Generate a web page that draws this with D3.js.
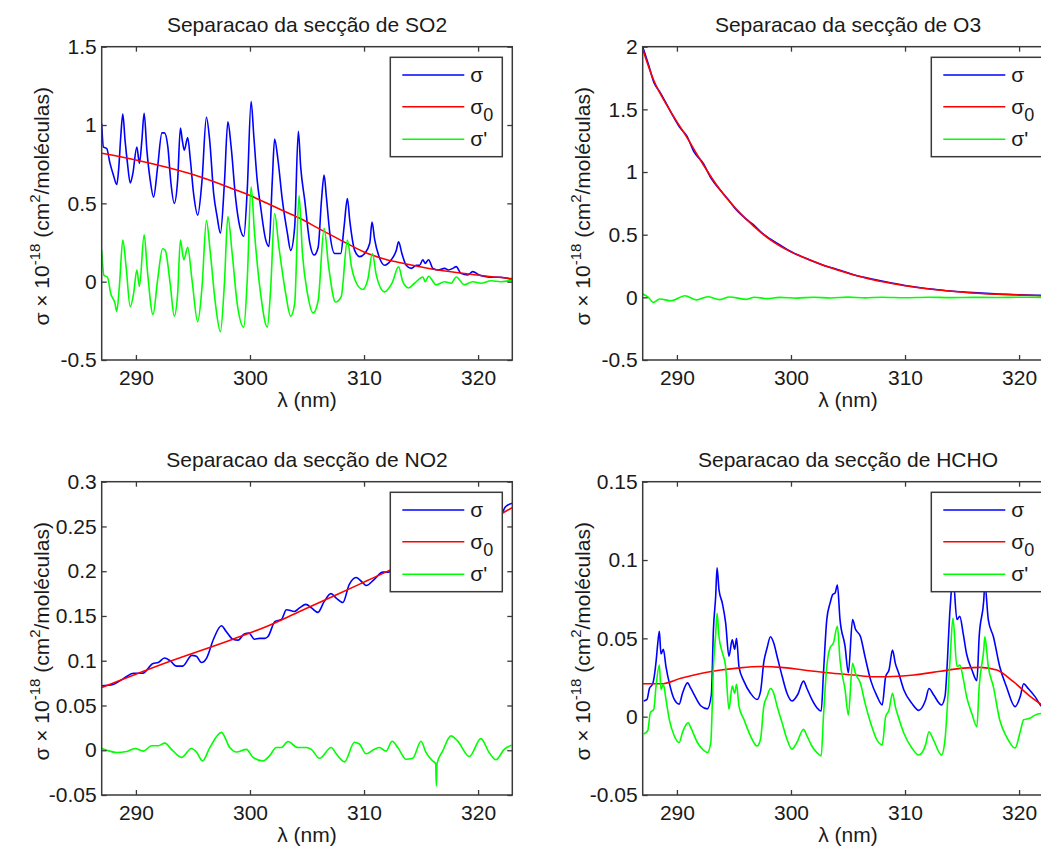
<!DOCTYPE html>
<html>
<head>
<meta charset="utf-8">
<script src="https://cdn.jsdelivr.net/npm/d3@7"></script>
<style>
  body { margin: 0; background: #fff; }
  svg { display: block; font-family: 'Liberation Sans', Arial, sans-serif; }
</style>
</head>
<body>
<svg width="1041" height="851"></svg>
<script>
/* global d3 */
/** Wavelength axis, shared by all four panels */
const xDomain = [287, 323]
const xTicks = [290, 300, 310, 320]

/** SO2: [lambda (nm), sigma x 1e-18] */
const so2Sigma = [[287.0, 1.01], [287.15, 0.86], [287.44, 0.85], [287.73, 0.755], [288.03, 0.68], [288.32, 0.62], [288.5, 0.73], [288.67, 0.925], [288.85, 1.07], [289.05, 0.90], [289.26, 0.755], [289.5, 0.63], [289.73, 0.69], [290.08, 0.86], [290.31, 0.755], [290.52, 0.90], [290.72, 1.075], [290.96, 0.84], [291.25, 0.65], [291.55, 0.54], [291.9, 0.73], [292.28, 0.95], [292.5, 0.95], [292.8, 0.86], [293.07, 0.63], [293.36, 0.50], [293.66, 0.65], [293.9, 0.98], [294.07, 0.90], [294.24, 0.84], [294.54, 0.92], [294.77, 0.78], [295.06, 0.56], [295.42, 0.425], [295.8, 0.65], [296.18, 1.05], [296.47, 0.90], [296.82, 0.56], [297.12, 0.415], [297.41, 0.31], [297.76, 0.63], [298.06, 1.02], [298.35, 0.86], [298.73, 0.54], [299.11, 0.35], [299.46, 0.29], [299.76, 0.585], [300.1, 1.15], [300.34, 0.925], [300.63, 0.65], [300.93, 0.48], [301.37, 0.27], [301.66, 0.225], [301.96, 0.65], [302.16, 0.91], [302.45, 0.78], [302.84, 0.52], [303.28, 0.31], [303.57, 0.20], [303.92, 0.35], [304.24, 0.96], [304.45, 0.73], [304.8, 0.52], [305.25, 0.245], [305.63, 0.17], [305.98, 0.22], [306.27, 0.52], [306.5, 0.68], [306.7, 0.54], [307.0, 0.31], [307.43, 0.18], [307.96, 0.18], [308.25, 0.35], [308.54, 0.53], [308.75, 0.39], [309.18, 0.20], [309.62, 0.16], [310.06, 0.18], [310.5, 0.245], [310.7, 0.38], [310.93, 0.27], [311.37, 0.15], [311.81, 0.105], [312.39, 0.14], [312.83, 0.20], [313.03, 0.255], [313.32, 0.18], [313.7, 0.105], [314.14, 0.085], [314.58, 0.105], [314.87, 0.105], [315.16, 0.14], [315.36, 0.117], [315.66, 0.14], [316.03, 0.085], [316.47, 0.075], [317.06, 0.085], [317.4, 0.075], [317.78, 0.085], [318.08, 0.096], [318.5, 0.053], [319.1, 0.043], [319.53, 0.064], [320.1, 0.043], [320.7, 0.032], [321.28, 0.028], [322.0, 0.028], [322.6, 0.02], [323.0, 0.015]]
const so2Sigma0 = [[287, 0.82], [289.8, 0.78], [292.7, 0.73], [295.6, 0.67], [298.6, 0.59], [300, 0.55], [301.5, 0.50], [303, 0.45], [304.5, 0.40], [306, 0.34], [307.7, 0.275], [310, 0.19], [312, 0.14], [313.6, 0.115], [316.5, 0.075], [319.4, 0.047], [321, 0.033], [323, 0.02]]
const so2SigmaP = [[287.0, 0.20], [287.2, 0.04], [287.5, 0.03], [287.79, -0.075], [288.17, -0.14], [288.32, -0.19], [288.55, -0.03], [288.85, 0.265], [289.14, 0.095], [289.5, -0.16], [289.8, -0.075], [290.08, 0.075], [290.31, -0.03], [290.72, 0.30], [291.0, 0.075], [291.5, -0.21], [291.9, 0.01], [292.34, 0.21], [292.57, 0.20], [293.0, -0.01], [293.36, -0.22], [293.66, -0.075], [293.9, 0.265], [294.2, 0.14], [294.54, 0.22], [294.92, 0.01], [295.42, -0.255], [295.8, -0.03], [296.18, 0.39], [296.53, 0.18], [296.97, -0.14], [297.41, -0.32], [297.76, -0.01], [298.06, 0.415], [298.44, 0.18], [298.88, -0.14], [299.46, -0.29], [299.76, 0.01], [300.1, 0.605], [300.4, 0.31], [300.93, -0.075], [301.52, -0.29], [301.81, -0.05], [302.16, 0.435], [302.54, 0.22], [303.13, -0.075], [303.57, -0.22], [303.92, -0.14], [304.3, 0.55], [304.6, 0.18], [305.04, -0.075], [305.54, -0.20], [305.98, -0.12], [306.5, 0.34], [306.9, 0.095], [307.5, -0.13], [308.0, -0.095], [308.54, 0.265], [308.9, 0.095], [309.5, -0.03], [309.9, -0.05], [310.35, 0.02], [310.73, 0.18], [311.08, 0.04], [311.8, -0.065], [312.45, -0.01], [313.03, 0.095], [313.4, 0.0], [313.9, -0.04], [314.43, -0.01], [315.16, 0.03], [315.36, 0.0], [315.66, 0.035], [316.33, -0.02], [317.06, 0.0], [317.64, -0.01], [318.08, 0.03], [318.8, -0.02], [319.53, 0.0], [320.26, -0.01], [321.14, 0.006], [322.0, 0.0], [323.0, 0.01]]
const so2Ticks = [-0.5, 0, 0.5, 1, 1.5]

/** O3 */
const o3Sigma = [[287, 2.0], [287.5, 1.86], [288, 1.71], [288.5, 1.64], [289.4, 1.49], [290.3, 1.35], [290.85, 1.29], [291.5, 1.16], [292.3, 1.07], [293, 0.95], [293.76, 0.86], [294.5, 0.78], [295.2, 0.70], [296, 0.63], [296.7, 0.58], [297.5, 0.51], [298.1, 0.47], [299, 0.42], [299.9, 0.37], [301.6, 0.30], [303, 0.25], [304, 0.225], [305.5, 0.18], [306.9, 0.15], [308.5, 0.12], [310, 0.095], [311.5, 0.075], [312.7, 0.063], [314, 0.05], [315.6, 0.04], [317.5, 0.03], [320, 0.02], [321.5, 0.017], [323, 0.01]]
const o3Sigma0 = [[287, 1.98], [287.93, 1.74], [289.4, 1.49], [290.85, 1.28], [292.3, 1.06], [293.76, 0.86], [295.2, 0.705], [296.7, 0.57], [298.1, 0.465], [299.9, 0.367], [301.6, 0.30], [304, 0.22], [306.9, 0.146], [310, 0.093], [312.7, 0.061], [315.6, 0.037], [320, 0.019], [323, 0.01]]
const o3SigmaP = [[287, 0.027], [287.5, 0.0], [287.93, -0.04], [288.5, -0.013], [289.5, -0.027], [290.7, 0.013], [291.7, -0.02], [292.7, 0.005], [293.76, -0.018], [294.6, 0.003], [296.1, -0.016], [296.8, 0.001], [297.9, -0.01], [299, 0], [300.5, -0.006], [302, 0.001], [303.5, -0.005], [305, 0.002], [306.5, -0.004], [308, 0.001], [310, -0.003], [312, 0.001], [314, -0.002], [316, 0.0], [318, -0.001], [320, 0.001], [323, -0.001]]
const o3Ticks = [-0.5, 0, 0.5, 1, 1.5, 2]

/** NO2 */
const no2Sigma = [[287, 0.072], [288.0, 0.0735], [288.9, 0.080], [289.8, 0.086], [290.6, 0.086], [291.5, 0.097], [291.96, 0.098], [292.5, 0.103], [293.0, 0.100], [293.56, 0.094], [294.1, 0.094], [294.9, 0.106], [295.3, 0.105], [295.75, 0.098], [296.2, 0.103], [296.8, 0.124], [297.5, 0.139], [297.9, 0.133], [298.5, 0.124], [298.96, 0.123], [299.5, 0.13], [299.9, 0.131], [300.4, 0.124], [300.85, 0.125], [301.3, 0.125], [301.58, 0.127], [302.2, 0.144], [302.75, 0.146], [303.2, 0.157], [303.9, 0.155], [304.35, 0.159], [304.9, 0.163], [305.4, 0.159], [305.96, 0.154], [306.5, 0.166], [307.1, 0.175], [307.56, 0.17], [308.14, 0.165], [308.7, 0.185], [309.3, 0.193], [309.9, 0.187], [310.2, 0.184], [310.9, 0.191], [311.65, 0.199], [312.1, 0.199], [313.5, 0.209], [315, 0.226], [316.3, 0.19], [317.6, 0.248], [319.2, 0.24], [320.3, 0.263], [321.5, 0.256], [322.05, 0.263], [322.4, 0.272], [323, 0.276]]
const no2Sigma0 = [[287, 0.070], [292.7, 0.098], [298.5, 0.124], [301.4, 0.138], [304.35, 0.155], [307.3, 0.172], [310.2, 0.189], [311.9, 0.199], [315, 0.218], [318, 0.238], [320, 0.25], [322, 0.264], [323, 0.271]]
const no2SigmaP = [[287.0, 0.002], [287.44, 0], [288.31, -0.0025], [289.19, -0.0015], [289.92, 0.002], [290.65, -0.001], [291.37, 0.005], [291.96, 0.005], [292.54, 0.008], [293.12, 0.001], [294.0, -0.008], [294.87, 0.002], [295.31, -0.002], [295.84, -0.012], [296.48, 0.003], [297.5, 0.020], [298.23, 0.003], [298.81, -0.002], [299.69, 0.001], [300.27, -0.008], [301.14, -0.012], [301.73, -0.006], [302.31, 0.003], [302.75, 0.003], [303.33, 0.0097], [304.2, 0.003], [304.94, 0.003], [305.37, 0.001], [306.1, -0.009], [307.12, 0.003], [307.56, -0.004], [308.29, -0.013], [309.16, 0.009], [309.6, 0.007], [310.18, -0.004], [310.91, 0.001], [311.35, 0.003], [311.93, -0.001], [312.46, 0.01], [312.96, 0.003], [313.68, -0.01], [314.27, -0.009], [315.0, 0.01], [315.43, -0.0025], [316.02, -0.012], [316.28, -0.015], [316.34, -0.04], [316.4, -0.015], [316.89, -0.001], [317.62, 0.016], [318.2, 0.0105], [319.23, -0.007], [320.25, 0.013], [320.97, -0.0025], [321.56, -0.0107], [322.29, 0.001], [322.93, 0.0055]]
const no2Ticks = [-0.05, 0, 0.05, 0.1, 0.15, 0.2, 0.25, 0.3]

/** HCHO */
const hchoSigma = [[287.09, 0.010], [287.38, 0.011], [287.59, 0.018], [287.88, 0.021], [288.17, 0.035], [288.31, 0.046], [288.46, 0.0545], [288.6, 0.040], [288.81, 0.043], [289.04, 0.032], [289.33, 0.0216], [289.77, 0.011], [290.2, 0.008], [290.49, 0.015], [290.93, 0.0216], [291.22, 0.018], [291.66, 0.012], [292.09, 0.007], [292.67, 0.005], [293.02, 0.014], [293.2, 0.0555], [293.4, 0.077], [293.52, 0.095], [293.69, 0.081], [293.98, 0.0725], [294.27, 0.060], [294.56, 0.0386], [294.85, 0.049], [295.06, 0.043], [295.23, 0.050], [295.44, 0.032], [295.87, 0.0227], [296.45, 0.015], [297.03, 0.011], [297.33, 0.016], [297.62, 0.035], [297.91, 0.044], [298.2, 0.051], [298.49, 0.047], [298.78, 0.0386], [299.22, 0.026], [299.65, 0.015], [300.09, 0.010], [300.58, 0.014], [301.1, 0.0227], [301.4, 0.018], [301.83, 0.011], [302.27, 0.0057], [302.65, 0.0036], [302.85, 0.028], [303.14, 0.062], [303.43, 0.0725], [303.66, 0.078], [303.87, 0.079], [304.07, 0.084], [304.3, 0.062], [304.74, 0.045], [305.03, 0.028], [305.4, 0.062], [305.65, 0.056], [306.1, 0.051], [306.5, 0.038], [307.0, 0.023], [307.55, 0.013], [308.0, 0.0075], [308.3, 0.0255], [308.6, 0.030], [308.9, 0.0425], [309.15, 0.034], [309.45, 0.0277], [309.9, 0.017], [310.6, 0.0085], [311.2, 0.004], [311.8, 0.0106], [312.1, 0.018], [312.5, 0.014], [313.2, 0.0075], [313.5, 0.0128], [313.96, 0.070], [314.2, 0.09], [314.55, 0.062], [314.8, 0.064], [315.1, 0.053], [315.4, 0.040], [315.86, 0.030], [316.3, 0.023], [316.5, 0.051], [316.9, 0.074], [317.0, 0.085], [317.3, 0.062], [317.75, 0.051], [318.3, 0.032], [318.9, 0.019], [319.65, 0.0064], [320.1, 0.0128], [320.4, 0.021], [320.8, 0.018], [321.4, 0.0128], [322, 0.0064], [322.5, 0.005], [323, 0.003]]
const hchoSigma0 = [[287, 0.021], [288.6, 0.021], [290.35, 0.0245], [292.4, 0.028], [293.85, 0.0298], [295.3, 0.031], [297.35, 0.032], [299.1, 0.0315], [301.1, 0.0298], [303.2, 0.028], [305.5, 0.0266], [307.26, 0.0255], [308.4, 0.0255], [310.76, 0.0266], [313.1, 0.029], [315.1, 0.031], [316.6, 0.0315], [318.05, 0.0298], [319.5, 0.0223], [321, 0.0128], [322, 0.0075], [323, 0.003]]
const hchoSigmaP = [[287.09, -0.011], [287.44, -0.009], [287.67, 0.0025], [287.97, 0.0047], [288.17, 0.0195], [288.46, 0.033], [288.6, 0.0174], [288.81, 0.0206], [289.04, 0.011], [289.33, -0.0017], [289.77, -0.0123], [290.2, -0.0165], [290.49, -0.010], [290.99, -0.0038], [291.22, -0.007], [291.8, -0.0165], [292.24, -0.0208], [292.67, -0.0229], [292.97, -0.0165], [293.2, 0.032], [293.4, 0.053], [293.52, 0.066], [293.69, 0.051], [293.98, 0.041], [294.27, 0.032], [294.56, 0.0047], [294.85, 0.0195], [295.06, 0.015], [295.23, 0.0206], [295.44, 0.0068], [295.87, -0.0017], [296.45, -0.0123], [297.03, -0.0187], [297.33, -0.0144], [297.62, 0.0068], [297.91, 0.013], [298.2, 0.018], [298.49, 0.015], [298.78, 0.0068], [299.22, -0.0038], [299.65, -0.0144], [300.09, -0.0208], [300.52, -0.0165], [301.1, -0.008], [301.4, -0.0123], [301.83, -0.0187], [302.27, -0.0229], [302.65, -0.025], [302.85, 0.0004], [303.14, 0.032], [303.43, 0.044], [303.72, 0.047], [304.07, 0.0577], [304.3, 0.036], [304.74, 0.0174], [305.03, 0.001], [305.4, 0.034], [305.65, 0.0277], [306.1, 0.021], [306.5, 0.0085], [307.0, -0.0043], [307.55, -0.015], [308.0, -0.018], [308.3, 0.0], [308.6, 0.0043], [308.9, 0.015], [309.15, 0.0064], [309.45, -0.001], [309.9, -0.0106], [310.6, -0.020], [311.2, -0.0245], [311.8, -0.018], [312.1, -0.0096], [312.5, -0.015], [313.2, -0.0245], [313.5, -0.015], [313.96, 0.038], [314.2, 0.063], [314.55, 0.032], [314.8, 0.033], [315.1, 0.0245], [315.4, 0.0128], [315.86, 0.002], [316.3, -0.0064], [316.5, 0.019], [316.9, 0.0425], [317.0, 0.051], [317.3, 0.032], [317.75, 0.019], [318.3, -0.002], [318.9, -0.0128], [319.65, -0.020], [320.1, -0.0096], [320.4, -0.002], [320.95, -0.001], [321.4, 0.001], [322, 0.002], [323, 0.002]]
const hchoTicks = [-0.05, 0, 0.05, 0.1, 0.15]

const panels = [
  { title: 'Separacao da secção de SO2', series: [so2Sigma, so2Sigma0, so2SigmaP], yDomain: [-0.5, 1.5], yTicks: so2Ticks, left: 101.7, top: 46.7 },
  { title: 'Separacao da secção de O3', series: [o3Sigma, o3Sigma0, o3SigmaP], yDomain: [-0.5, 2], yTicks: o3Ticks, left: 642.7, top: 46.7 },
  { title: 'Separacao da secção de NO2', series: [no2Sigma, no2Sigma0, no2SigmaP], yDomain: [-0.05, 0.3], yTicks: no2Ticks, left: 101.7, top: 481.7 },
  { title: 'Separacao da secção de HCHO', series: [hchoSigma, hchoSigma0, hchoSigmaP], yDomain: [-0.05, 0.15], yTicks: hchoTicks, left: 642.7, top: 481.7 }
]

const width = 410.6
const height = 313.3
const colors = ['#0000ff', '#ff0000', '#00ff00']
const axisColor = '#3a3a3a'
const fontSize = 21
const fmt = d => String(Math.round(d * 100) / 100)

const svg = d3.select('svg')

panels.forEach((p, i) => {
  const g = svg.append('g').attr('transform', `translate(${p.left},${p.top})`)

  const xScale = d3.scaleLinear().domain(xDomain).range([0, width])
  const yScale = d3.scaleLinear().domain(p.yDomain).range([height, 0])

  svg.append('clipPath')
    .attr('id', `clip${i}`)
    .append('rect')
    .attr('width', width)
    .attr('height', height)

  /** The three curves, blue then red then green on top */
  const line = d3.line()
    .x(d => xScale(d[0]))
    .y(d => yScale(d[1]))
    .curve(d3.curveMonotoneX)

  g.append('g')
    .attr('clip-path', `url(#clip${i})`)
    .selectAll('path')
    .data(p.series)
    .enter()
    .append('path')
    .attr('d', line)
    .attr('fill', 'none')
    .attr('stroke', (d, k) => colors[k])
    .attr('stroke-width', 1.6)
    .attr('stroke-linejoin', 'round')

  /** Axes with inward ticks on all four sides */
  const axes = [
    { axis: d3.axisBottom(xScale).tickValues(xTicks).tickPadding(10).tickFormat(d3.format('d')), at: `translate(0,${height})` },
    { axis: d3.axisTop(xScale).tickValues(xTicks).tickFormat(''), at: 'translate(0,0)' },
    { axis: d3.axisLeft(yScale).tickValues(p.yTicks).tickPadding(5).tickFormat(fmt), at: 'translate(0,0)' },
    { axis: d3.axisRight(yScale).tickValues(p.yTicks).tickFormat(''), at: `translate(${width},0)` }
  ]
  axes.forEach(a => {
    g.append('g')
      .attr('transform', a.at)
      .call(a.axis.tickSizeInner(-5).tickSizeOuter(0))
      .attr('font-size', fontSize)
      .attr('font-family', null)
      .style('color', axisColor)
      .call(s => s.select('.domain').remove())
      .call(s => s.selectAll('line').attr('stroke-width', 1.3))
      .call(s => s.selectAll('text').attr('fill', '#1a1a1a'))
  })

  g.append('rect')
    .attr('width', width)
    .attr('height', height)
    .attr('fill', 'none')
    .attr('stroke', axisColor)
    .attr('stroke-width', 1.5)

  /** Title and axis labels */
  g.append('text')
    .attr('x', width / 2)
    .attr('y', -15)
    .attr('text-anchor', 'middle')
    .attr('font-size', fontSize)
    .attr('fill', '#1a1a1a')
    .text(p.title)

  g.append('text')
    .attr('x', width / 2)
    .attr('y', height + 47)
    .attr('text-anchor', 'middle')
    .attr('font-size', fontSize)
    .attr('fill', '#1a1a1a')
    .text('λ (nm)')

  const yLabel = g.append('text')
    .attr('transform', `translate(-53,${height / 2 + 3}) rotate(-90)`)
    .attr('text-anchor', 'middle')
    .attr('font-size', fontSize)
    .attr('fill', '#1a1a1a')
  yLabel.append('tspan').text('σ × 10')
  yLabel.append('tspan').attr('font-size', 15).attr('dy', -9).text('-18')
  yLabel.append('tspan').attr('dy', 9).text(' (cm')
  yLabel.append('tspan').attr('font-size', 15).attr('dy', -9).text('2')
  yLabel.append('tspan').attr('dy', 9).text('/moléculas)')

  /** Legend, boxed, top right corner of the axes */
  const legend = g.append('g').attr('transform', `translate(${width - 122},10.6)`)
  legend.append('rect')
    .attr('width', 112)
    .attr('height', 99.4)
    .attr('fill', '#fff')
    .attr('stroke', axisColor)
    .attr('stroke-width', 1.5)
  const rows = [17.7, 49.4, 82]
  rows.forEach((ry, k) => {
    legend.append('line')
      .attr('x1', 12)
      .attr('x2', 74)
      .attr('y1', ry)
      .attr('y2', ry)
      .attr('stroke', colors[k])
      .attr('stroke-width', 1.6)
    const t = legend.append('text')
      .attr('x', 80)
      .attr('y', ry + 7)
      .attr('font-size', fontSize)
      .attr('fill', '#1a1a1a')
    t.append('tspan').text('σ')
    if (k === 1) t.append('tspan').attr('font-size', 18).attr('dy', 7).text('0')
    if (k === 2) t.append('tspan').text('\'')
  })
})
</script>
</body>
</html>
